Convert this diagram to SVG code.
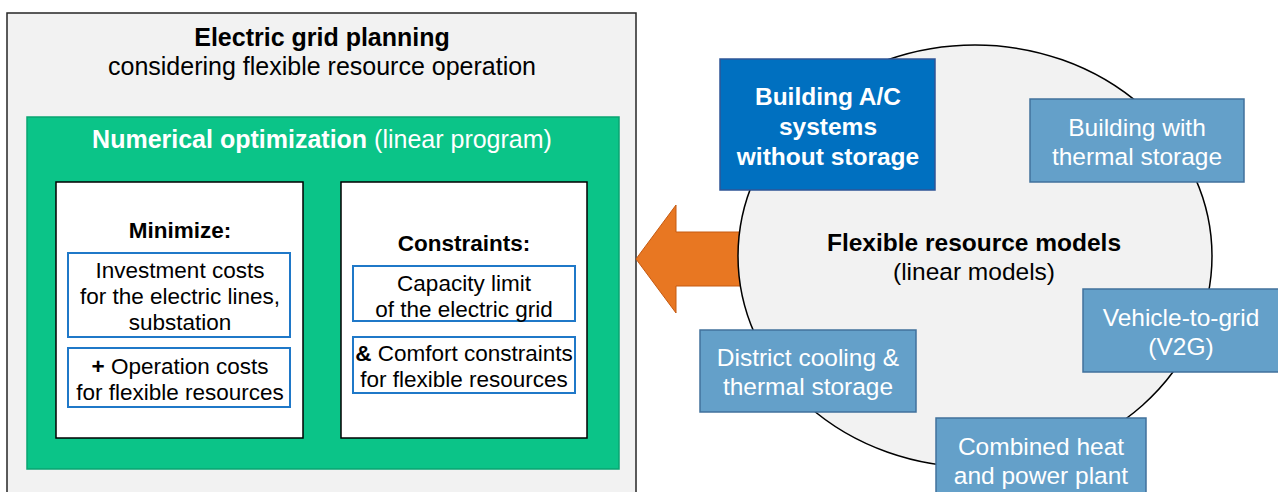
<svg xmlns="http://www.w3.org/2000/svg" width="1278" height="492" viewBox="0 0 1278 492">
<style>
text{font-family:"Liberation Sans",Arial,sans-serif;text-anchor:middle;}
.t{font-size:22.5px;fill:#000;}
.h{font-size:25px;}
.w{font-size:24.5px;fill:#fff;}
.b{font-weight:bold;}
.inner{fill:#fff;stroke:#000;stroke-width:1.5;}
.sub{fill:#fff;stroke:#1f78c8;stroke-width:2;}
.lb{fill:#64a0c9;stroke:#41719c;stroke-width:1.5;}
</style>
<g id="outer">
<rect x="7" y="13" width="629" height="490" fill="#f2f2f2" stroke="#262626" stroke-width="1.5"/>
<text x="322" y="46" class="h b">Electric grid planning</text>
<text x="322" y="75" class="h">considering flexible resource operation</text>
</g>
<g id="optimization">
<rect x="27" y="117" width="592" height="352" fill="#0bc488" stroke="#0aa572" stroke-width="1.5"/>
<text x="322" y="148" class="h" fill="#fff"><tspan class="b">Numerical optimization</tspan> (linear program)</text>
</g>
<g id="minimize">
<rect class="inner" x="56" y="182" width="247" height="256"/>
<text class="t b" x="180" y="238">Minimize:</text>
</g>
<g id="investment">
<rect class="sub" x="68" y="253" width="222" height="84"/>
<text class="t" x="180" y="278">Investment costs</text>
<text class="t" x="180" y="304">for the electric lines,</text>
<text class="t" x="180" y="330">substation</text>
</g>
<g id="operation">
<rect class="sub" x="68" y="348" width="222" height="59"/>
<text class="t" x="180" y="374"><tspan class="b">+</tspan> Operation costs</text>
<text class="t" x="180" y="400">for flexible resources</text>
</g>
<g id="constraints">
<rect class="inner" x="341" y="182" width="246" height="256"/>
<text class="t b" x="464" y="251">Constraints:</text>
</g>
<g id="capacity">
<rect class="sub" x="353" y="266" width="222" height="55"/>
<text class="t" x="464" y="291">Capacity limit</text>
<text class="t" x="464" y="317">of the electric grid</text>
</g>
<g id="comfort">
<rect class="sub" x="353" y="337" width="222" height="56"/>
<text class="t" x="464" y="361"><tspan class="b">&amp;</tspan> Comfort constraints</text>
<text class="t" x="464" y="387">for flexible resources</text>
</g>
<g id="connectors">
<polygon points="636,259 676,205 676,232 760,232 760,286 676,286 676,313" fill="#e87722" stroke="#c55a11" stroke-width="1"/>
</g>
<g id="flexible-models">
<ellipse cx="975" cy="256" rx="237" ry="211" fill="#f2f2f2" stroke="#000" stroke-width="1.5"/>
<text class="b" style="font-size:24.5px" x="974" y="251">Flexible resource models</text>
<text style="font-size:24.5px" x="974" y="280">(linear models)</text>
</g>
<g id="building-ac">
<rect x="720" y="59" width="215" height="131" fill="#0070c0" stroke="#2f5597" stroke-width="1.5"/>
<text class="w b" x="828" y="105">Building A/C</text>
<text class="w b" x="828" y="135">systems</text>
<text class="w b" x="828" y="165">without storage</text>
</g>
<g id="building-thermal">
<rect class="lb" x="1030" y="99" width="214" height="83"/>
<text class="w" x="1137" y="136">Building with</text>
<text class="w" x="1137" y="165">thermal storage</text>
</g>
<g id="v2g">
<rect class="lb" x="1083" y="289" width="200" height="83"/>
<text class="w" x="1181" y="326">Vehicle-to-grid</text>
<text class="w" x="1181" y="355">(V2G)</text>
</g>
<g id="district-cooling">
<rect class="lb" x="700" y="330" width="216" height="82"/>
<text class="w" x="808" y="366">District cooling &amp;</text>
<text class="w" x="808" y="395">thermal storage</text>
</g>
<g id="chp">
<rect class="lb" x="936" y="418" width="210" height="90"/>
<text class="w" x="1041" y="455">Combined heat</text>
<text class="w" x="1041" y="484">and power plant</text>
</g>
</svg>
